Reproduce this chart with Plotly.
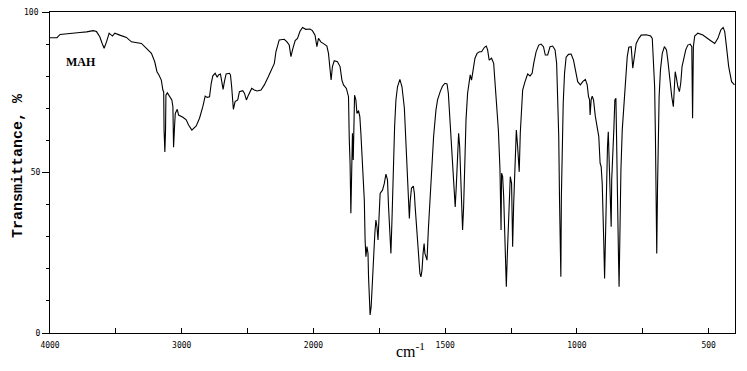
import plotly.graph_objects as go

# IR spectrum of MAH
wavenumber = [
    4000, 3947, 3924, 3849, 3773, 3722, 3672, 3647, 3622, 3604,
    3589, 3571, 3551, 3526, 3508, 3470, 3420, 3382, 3344, 3306,
    3268, 3230, 3205, 3188, 3173, 3155, 3143, 3137, 3134, 3128,
    3123, 3120, 3109, 3092, 3075, 3067, 3062, 3054, 3049, 3034,
    3024, 2991, 2966, 2948, 2923, 2890, 2865, 2840, 2822, 2807,
    2789, 2776, 2764, 2746, 2731, 2721, 2706, 2696, 2686, 2676,
    2663, 2638, 2630, 2621, 2613, 2608, 2595, 2575, 2562, 2537,
    2524, 2509, 2494, 2469, 2449, 2428, 2398, 2373, 2343, 2318,
    2297, 2285, 2272, 2260, 2222, 2201, 2184, 2171, 2159, 2139,
    2121, 2103, 2083, 2058, 2027, 2008,
    1994, 1987, 1981, 1972, 1959, 1949, 1943, 1938, 1933, 1928,
    1921, 1909, 1899, 1892, 1886, 1875, 1867, 1864, 1861, 1858,
    1856, 1852, 1849, 1844, 1839, 1835, 1829, 1824, 1820, 1814,
    1807, 1804, 1801, 1797, 1793, 1791, 1787, 1785, 1781, 1777,
    1773, 1767, 1763, 1759, 1755, 1750, 1747, 1738, 1731, 1725,
    1719, 1715, 1710, 1706, 1702, 1697, 1692, 1687, 1681, 1672,
    1664, 1655, 1649, 1643, 1639, 1636, 1633, 1628, 1621, 1617,
    1614, 1609, 1605, 1601, 1596, 1592, 1588, 1584, 1580, 1577,
    1569, 1564, 1558, 1552, 1544, 1535, 1529, 1519, 1510, 1501,
    1493, 1488, 1483, 1478, 1472, 1465, 1462, 1458, 1453, 1449,
    1445, 1440, 1436, 1434, 1430, 1426, 1421, 1415, 1408, 1405,
    1400, 1393, 1387, 1379, 1370, 1362, 1351, 1344, 1339, 1333,
    1329, 1324, 1316, 1311, 1305, 1298, 1292, 1288, 1286, 1282,
    1278, 1274, 1270, 1268, 1264, 1260, 1256, 1253, 1248, 1244,
    1240, 1235, 1230, 1225, 1219, 1215, 1212, 1206, 1197, 1187,
    1178, 1170, 1164, 1155, 1145, 1136, 1127, 1120, 1111, 1102,
    1092, 1083, 1077, 1073, 1069, 1066, 1064, 1061, 1059, 1056,
    1052, 1047, 1041, 1032, 1022, 1013, 1006, 997, 987, 978,
    968, 961, 956, 952, 950, 946, 942, 937, 930, 923,
    917, 912, 908, 904, 902, 898, 895, 892, 888, 884,
    881, 879, 875, 873, 870, 868, 864, 860, 856, 852,
    850, 847, 845, 842, 840, 837, 833, 828, 822, 816,
    809, 803, 794, 788, 781, 775, 765, 756, 737, 720,
    714, 709, 705, 702, 699, 697, 694, 691, 688, 683,
    676, 668, 660, 655, 650, 645, 640, 634, 631, 627,
    622, 617, 611, 606, 601, 595, 587, 579, 570, 564,
    561, 558, 553, 541, 522, 496, 477, 465, 454, 445,
    439, 431, 424, 413, 405, 402,
]

transmittance = [
    92.0, 92.0, 93.0, 93.4, 93.6, 93.8, 94.2, 93.9, 92.3, 90.2,
    88.7, 90.7, 93.4, 92.5, 93.4, 92.8, 92.1, 90.7, 90.4, 90.2,
    88.7, 87.1, 84.5, 81.4, 80.4, 78.8, 75.7, 75.1, 63.1, 56.4,
    63.1, 74.1, 74.8, 73.6, 72.6, 70.5, 57.9, 64.8, 68.4, 69.7,
    67.9, 67.2, 66.4, 64.8, 63.2, 64.5, 66.9, 70.5, 73.8, 73.4,
    73.6, 77.8, 80.1, 80.9, 79.7, 80.4, 80.7, 78.3, 75.9, 78.3,
    80.7, 80.9, 80.4, 76.7, 72.6, 69.7, 72.1, 72.6, 75.2, 75.5,
    74.7, 72.6, 74.1, 76.2, 75.7, 75.4, 75.7, 77.3, 79.8, 82.1,
    84.0, 87.6, 89.7, 91.3, 91.5, 90.7, 89.7, 86.1, 88.2, 91.1,
    91.8, 93.9, 95.2, 94.6, 94.7, 94.2,
    92.8, 89.2, 91.8, 90.7, 90.0, 89.4, 87.1, 82.5, 78.8, 83.0,
    84.8, 84.5, 83.0, 78.8, 77.3, 76.2, 73.6, 60.1, 52.9, 37.3,
    52.9, 62.2, 53.9, 74.1, 72.6, 68.4, 69.3, 67.4, 62.2, 51.8,
    41.4, 29.0, 23.8, 26.9, 24.8, 17.5, 8.2, 5.6, 8.2, 15.5,
    22.7, 31.1, 35.2, 33.1, 29.0, 37.3, 43.5, 44.5, 46.6, 49.5,
    47.7, 39.3, 30.0, 24.8, 35.2, 50.8, 64.3, 72.6, 76.7, 79.0,
    76.7, 70.1, 60.1, 50.2, 39.3, 35.7, 40.9, 45.1, 45.8, 43.5,
    39.3, 33.1, 26.9, 22.7, 18.6, 17.5, 19.6, 24.8, 27.9, 24.8,
    22.7, 32.1, 41.4, 52.9, 61.2, 69.5, 72.6, 75.2, 76.9, 77.8,
    77.6, 74.7, 68.4, 61.2, 51.8, 43.5, 39.3, 45.6, 58.0, 62.2,
    58.0, 47.7, 35.2, 32.1, 39.3, 53.9, 66.4, 74.7, 79.3, 80.4,
    78.8, 81.9, 85.6, 87.1, 87.6, 87.6, 89.0, 89.4, 88.2, 85.0,
    85.3, 85.6, 84.0, 77.8, 73.6, 63.1, 50.8, 32.1, 49.8, 48.7,
    42.5, 26.9, 18.6, 14.4, 24.8, 35.2, 45.6, 48.7, 46.6, 26.9,
    40.4, 50.8, 63.2, 58.0, 50.2, 62.2, 68.4, 75.7, 78.3, 80.7,
    80.1, 80.9, 84.0, 87.6, 89.7, 90.0, 89.2, 86.6, 86.6, 89.2,
    89.4, 88.2, 84.0, 71.6, 61.2, 41.4, 35.2, 17.5, 42.5, 56.0,
    71.6, 80.9, 85.9, 86.8, 86.9, 85.0, 81.9, 78.3, 77.3, 78.3,
    79.0, 77.3, 73.6, 72.6, 67.9, 72.6, 73.8, 72.6, 67.4, 64.3,
    61.2, 52.9, 51.8, 46.6, 35.2, 27.9, 17.0, 31.1, 45.6, 58.0,
    62.7, 58.0, 45.6, 37.3, 33.1, 47.7, 53.9, 63.2, 72.6, 73.1,
    63.2, 40.4, 30.0, 22.7, 14.4, 33.1, 50.8, 63.2, 71.6, 78.8,
    86.1, 89.0, 89.2, 82.5, 87.1, 90.2, 91.8, 92.8, 92.9, 92.5,
    91.8, 85.0, 76.7, 61.2, 35.2, 24.8, 45.6, 60.1, 73.6, 81.9,
    87.1, 89.2, 88.2, 85.0, 80.9, 76.7, 73.6, 70.5, 76.7, 81.4,
    79.3, 76.7, 75.2, 77.8, 83.0, 85.3, 88.2, 89.7, 90.0, 89.2,
    66.9, 89.2, 92.5, 93.4, 92.8, 91.3, 90.2, 91.8, 94.4, 95.2,
    93.9, 88.2, 83.0, 78.3, 77.3, 77.3,
]

x_tick_values = [4000, 3500, 3000, 2500, 2000, 1750, 1500, 1250, 1000, 750, 500]
x_tick_labels = ["4000", " ", "3000", " ", "2000", " ", "1500", " ", "1000", " ", "500"]
y_major_values = [0, 50, 100]
y_major_labels = ["0", "50", " "]   # "100" is drawn as an annotation (top edge)
y_top_label = "100"
y_minor_values = [10, 20, 30, 40, 60, 70, 80, 90]
x_start, x_end = 4000, 400
sample_name = "MAH"

assert len(wavenumber) == len(transmittance)


def pos(wn):
    # spectrometer scale: 2x expansion below 2000 cm-1
    return (4000 - wn) if wn >= 2000 else 2000 + 2 * (2000 - wn)


fig = go.Figure()
fig.add_trace(go.Scatter(
    x=[pos(w) for w in wavenumber], y=transmittance, mode="lines",
    line=dict(color="black", width=1.1), hoverinfo="skip",
))

# the page body adds an 8px offset, so the figure is sized/margined to compensate
tick_font = dict(family="DejaVu Sans Mono", size=8, color="black")
fig.update_layout(
    width=739, height=355,
    margin=dict(l=42, r=12, t=4, b=30),
    paper_bgcolor="white", plot_bgcolor="white",
    showlegend=False,
    xaxis=dict(
        range=[pos(x_start), pos(x_end)], showgrid=False, zeroline=False,
        showline=True, linecolor="black", linewidth=1, mirror=True,
        ticks="inside", ticklen=5, tickcolor="black", tickwidth=1,
        tickvals=[pos(v) for v in x_tick_values], ticktext=x_tick_labels,
        tickfont=tick_font, ticklabelstandoff=4,
    ),
    yaxis=dict(
        range=[0, 100], showgrid=False, zeroline=False,
        showline=True, linecolor="black", linewidth=1, mirror=True,
        ticks="outside", ticklen=7, tickcolor="black", tickwidth=1,
        tickvals=y_major_values, ticktext=y_major_labels,
        tickfont=tick_font,
        minor=dict(tickvals=y_minor_values, ticks="outside", ticklen=3,
                   tickcolor="black", tickwidth=1, showgrid=False),
    ),
    annotations=[
        dict(text=y_top_label, xref="paper", yref="y",
             x=(41 - 50) / 685, y=100, xanchor="right", yanchor="middle",
             showarrow=False, font=tick_font),
        dict(text="<b>Transmittance, %</b>", xref="paper", yref="paper",
             x=(18 - 50) / 685, y=(333 - 166) / 321, textangle=-90,
             showarrow=False, xanchor="center", yanchor="middle",
             font=dict(family="Liberation Mono", size=15, color="black")),
        dict(text="cm<sup>-1</sup>", xref="paper", yref="paper",
             x=(411 - 50) / 685, y=(333 - 350) / 321,
             showarrow=False, xanchor="center", yanchor="middle",
             font=dict(family="Liberation Serif", size=16, color="black")),
        dict(text="<b>" + sample_name + "</b>", xref="x", yref="y",
             x=pos(3765), y=84.3, showarrow=False,
             xanchor="center", yanchor="middle",
             font=dict(family="Liberation Serif", size=12, color="black")),
    ],
)

fig.write_html("out.html")
